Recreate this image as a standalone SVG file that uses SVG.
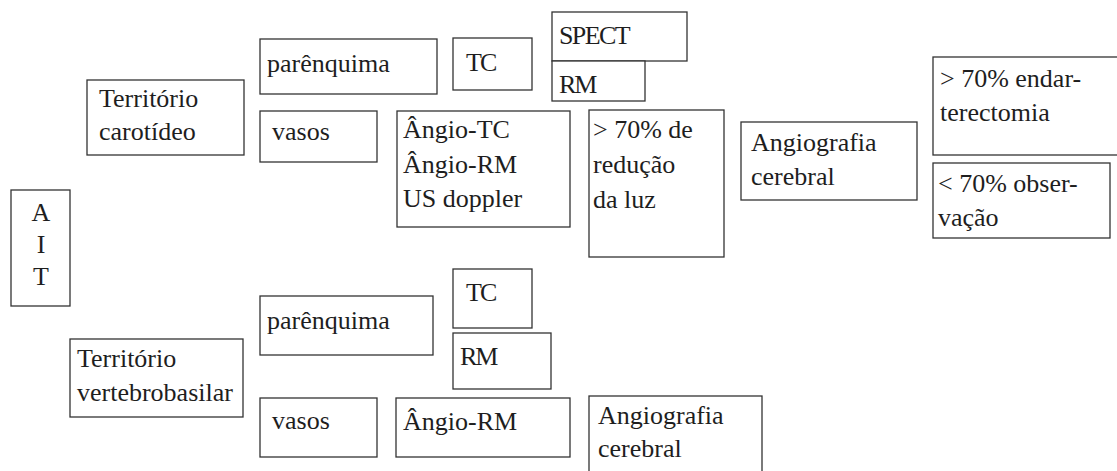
<svg xmlns="http://www.w3.org/2000/svg" width="1117" height="471" viewBox="0 0 1117 471">
<style>
rect{fill:#fff;stroke:#333;stroke-width:1.3}
text{font-size:26px;fill:#1e1e1e}
.c{text-anchor:middle}
.t{letter-spacing:-2px}
</style>
<rect x="0" y="0" width="1117" height="471" style="stroke:none"/>
<g id="connectors"></g>
<g font-family="Liberation Serif, DejaVu Serif, serif">
<g id="ait"><rect x="11" y="190" width="59" height="116"/><text class="c" x="41" y="221">A</text><text class="c" x="41" y="253">I</text><text class="c" x="41" y="285">T</text></g>
<g id="territorio-carotideo"><rect x="87" y="80" width="157" height="75"/><text x="99" y="107">Território</text><text x="99" y="140">carotídeo</text></g>
<g id="parenquima-c"><rect x="260" y="39" width="177" height="55"/><text x="267" y="72">parênquima</text></g>
<g id="vasos-c"><rect x="260" y="111" width="117" height="51"/><text x="272" y="140">vasos</text></g>
<g id="tc-c"><rect x="453" y="38" width="79" height="52"/><text class="t" x="466" y="71">TC</text></g>
<g id="spect"><rect x="552" y="12" width="135" height="49"/><text class="t" x="559" y="44" style="letter-spacing:-1.6px">SPECT</text></g>
<g id="rm-c"><rect x="552" y="61" width="93" height="40"/><text class="t" x="559" y="93">RM</text></g>
<g id="angio-c"><rect x="397" y="111" width="173" height="116"/><text x="403" y="138">Ângio-TC</text><text x="403" y="173">Ângio-RM</text><text x="403" y="207">US doppler</text></g>
<g id="reducao"><rect x="589" y="110" width="135" height="147"/><text x="593" y="138">&gt; 70% de</text><text x="593" y="173">redução</text><text x="593" y="208">da luz</text></g>
<g id="angiografia-c"><rect x="741" y="122" width="176" height="78"/><text x="751" y="151">Angiografia</text><text x="751" y="185">cerebral</text></g>
<g id="endarterectomia"><rect x="933" y="57" width="190" height="98"/><text x="940" y="87">&gt; 70% endar-</text><text x="940" y="121">terectomia</text></g>
<g id="observacao"><rect x="933" y="163" width="177" height="75"/><text x="938" y="192">&lt; 70% obser-</text><text x="938" y="226">vação</text></g>
<g id="territorio-vb"><rect x="70" y="339" width="173" height="78"/><text x="77" y="367">Território</text><text x="77" y="401">vertebrobasilar</text></g>
<g id="parenquima-vb"><rect x="260" y="296" width="173" height="59"/><text x="267" y="329">parênquima</text></g>
<g id="vasos-vb"><rect x="260" y="398" width="117" height="59"/><text x="272" y="429">vasos</text></g>
<g id="tc-vb"><rect x="453" y="269" width="79" height="59"/><text class="t" x="466" y="301">TC</text></g>
<g id="rm-vb"><rect x="453" y="333" width="98" height="56"/><text class="t" x="460" y="365">RM</text></g>
<g id="angio-vb"><rect x="396" y="398" width="174" height="59"/><text x="403" y="430">Ângio-RM</text></g>
<g id="angiografia-vb"><rect x="589" y="396" width="173" height="85"/><text x="598" y="424">Angiografia</text><text x="598" y="457">cerebral</text></g>
</g>
</svg>
